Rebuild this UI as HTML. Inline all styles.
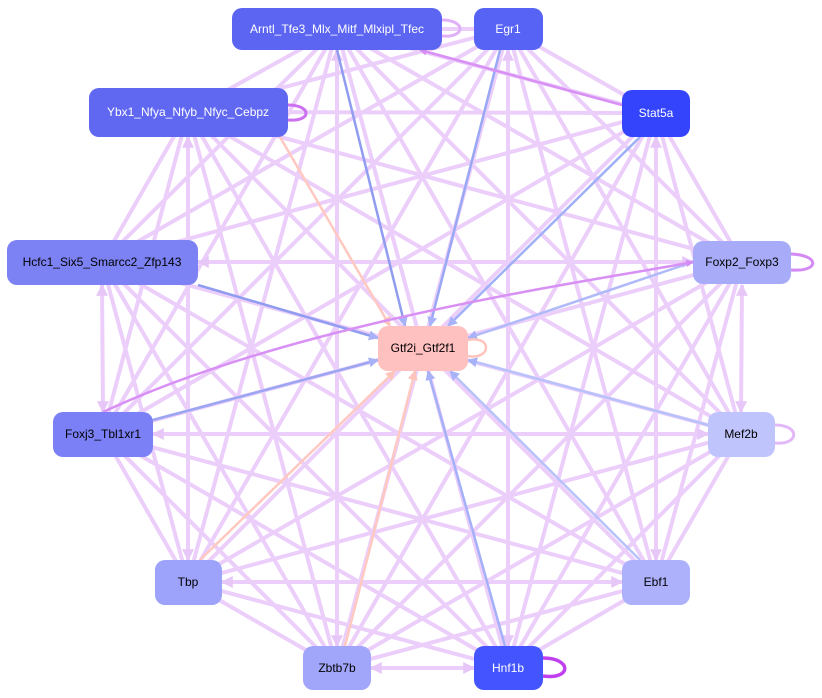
<!DOCTYPE html>
<html><head><meta charset="utf-8"><style>
html,body{margin:0;padding:0;background:#fff;}
svg{display:block}
text{font-family:"Liberation Sans",Arial,sans-serif;font-size:12px;text-anchor:middle;dominant-baseline:central}
</style></head><body>
<svg width="822" height="698" viewBox="0 0 822 698" xmlns="http://www.w3.org/2000/svg">
<defs>
<marker id="al" viewBox="0 0 10 10" refX="9" refY="5" markerWidth="3" markerHeight="3" orient="auto-start-reverse"><path d="M0,0L10,5L0,10z" fill="#e6c4f8"/></marker>
<marker id="ab" viewBox="0 0 10 10" refX="9" refY="5" markerWidth="4" markerHeight="4" orient="auto"><path d="M0,0L10,5L0,10z" fill="#a8b2f8"/></marker>
<marker id="ap" viewBox="0 0 10 10" refX="9" refY="5" markerWidth="4" markerHeight="4" orient="auto"><path d="M0,0L10,5L0,10z" fill="#ffc4bc"/></marker>
<marker id="am" viewBox="0 0 10 10" refX="9" refY="5" markerWidth="3" markerHeight="3" orient="auto"><path d="M0,0L10,5L0,10z" fill="#d68af4"/></marker>
</defs>
<g stroke="#ebccfa" stroke-width="4" fill="none" marker-end="url(#al)" marker-start="url(#al)" opacity="0.95">
<line x1="337" y1="29" x2="508" y2="29"/><line x1="337" y1="29" x2="188" y2="112"/><line x1="337" y1="29" x2="656" y2="113"/><line x1="337" y1="29" x2="102" y2="262"/><line x1="337" y1="29" x2="742" y2="262"/><line x1="337" y1="29" x2="103" y2="434"/><line x1="337" y1="29" x2="741" y2="434"/><line x1="337" y1="29" x2="188" y2="582"/><line x1="337" y1="29" x2="656" y2="582"/><line x1="337" y1="50" x2="337" y2="646"/><line x1="337" y1="29" x2="508" y2="668"/>
<line x1="508" y1="29" x2="188" y2="112"/><line x1="508" y1="29" x2="656" y2="113"/><line x1="508" y1="29" x2="102" y2="262"/><line x1="508" y1="29" x2="742" y2="262"/><line x1="508" y1="29" x2="103" y2="434"/><line x1="508" y1="29" x2="741" y2="434"/><line x1="508" y1="29" x2="188" y2="582"/><line x1="508" y1="29" x2="656" y2="582"/><line x1="508" y1="29" x2="337" y2="668"/><line x1="508" y1="50" x2="508" y2="646"/>
<line x1="188" y1="112" x2="656" y2="113"/><line x1="188" y1="112" x2="102" y2="262"/><line x1="188" y1="112" x2="742" y2="262"/><line x1="188" y1="112" x2="103" y2="434"/><line x1="188" y1="112" x2="741" y2="434"/><line x1="188" y1="137" x2="188" y2="560"/><line x1="188" y1="112" x2="656" y2="582"/><line x1="188" y1="112" x2="337" y2="668"/><line x1="188" y1="112" x2="508" y2="668"/>
<line x1="656" y1="113" x2="102" y2="262"/><line x1="656" y1="113" x2="742" y2="262"/><line x1="656" y1="113" x2="103" y2="434"/><line x1="656" y1="113" x2="741" y2="434"/><line x1="656" y1="113" x2="188" y2="582"/><line x1="656" y1="137" x2="656" y2="560"/><line x1="656" y1="113" x2="337" y2="668"/><line x1="656" y1="113" x2="508" y2="668"/>
<line x1="198" y1="262" x2="693" y2="262"/><line x1="102" y1="285" x2="103" y2="412"/><line x1="102" y1="262" x2="741" y2="434"/><line x1="102" y1="262" x2="188" y2="582"/><line x1="102" y1="262" x2="656" y2="582"/><line x1="102" y1="262" x2="337" y2="668"/><line x1="102" y1="262" x2="508" y2="668"/>
<line x1="742" y1="262" x2="103" y2="434"/><line x1="742" y1="285" x2="741" y2="412"/><line x1="742" y1="262" x2="188" y2="582"/><line x1="742" y1="262" x2="656" y2="582"/><line x1="742" y1="262" x2="337" y2="668"/><line x1="742" y1="262" x2="508" y2="668"/>
<line x1="153" y1="434" x2="708" y2="434"/><line x1="103" y1="434" x2="188" y2="582"/><line x1="103" y1="434" x2="656" y2="582"/><line x1="103" y1="434" x2="337" y2="668"/><line x1="103" y1="434" x2="508" y2="668"/>
<line x1="741" y1="434" x2="188" y2="582"/><line x1="741" y1="434" x2="656" y2="582"/><line x1="741" y1="434" x2="337" y2="668"/><line x1="741" y1="434" x2="508" y2="668"/>
<line x1="622" y1="582" x2="222" y2="582"/><line x1="188" y1="582" x2="337" y2="668"/><line x1="188" y1="582" x2="508" y2="668"/><line x1="656" y1="582" x2="337" y2="668"/><line x1="656" y1="582" x2="508" y2="668"/><line x1="371" y1="668" x2="474" y2="668"/>
</g>
<g fill="none" stroke-width="2.5">
<line x1="337" y1="50" x2="405" y2="326" stroke="#8f9cf0" marker-end="url(#ab)"/>
<line x1="500" y1="50" x2="430" y2="326" stroke="#99a8f4" marker-end="url(#ab)"/>
<line x1="640" y1="137" x2="448" y2="326" stroke="#9fb0f6" marker-end="url(#ab)"/>
<line x1="693" y1="262" x2="468" y2="338" stroke="#b0baf8" marker-end="url(#ab)"/>
<line x1="708" y1="425" x2="468" y2="360" stroke="#b8c2fa" marker-end="url(#ab)"/>
<line x1="640" y1="560" x2="450" y2="371" stroke="#b8c2fa" marker-end="url(#ab)"/>
<line x1="505" y1="646" x2="428" y2="371" stroke="#a4b0f8" marker-end="url(#ab)"/>
<line x1="345" y1="646" x2="415" y2="371" stroke="#ffc8c0" marker-end="url(#ap)"/>
<line x1="200" y1="560" x2="395" y2="371" stroke="#ffc8c0" marker-end="url(#ap)"/>
<line x1="153" y1="420" x2="378" y2="360" stroke="#9aa6f2" marker-end="url(#ab)"/>
<line x1="198" y1="285" x2="378" y2="338" stroke="#8f9cf0" marker-end="url(#ab)"/>
<line x1="280" y1="137" x2="390" y2="326" stroke="#ffc8c0" marker-end="url(#ap)"/>
<path d="M468,340 C492,335 492,360 468,356" stroke="#ffc4bc"/>
<line x1="622" y1="105" x2="420" y2="50" stroke="#d890f4" marker-end="url(#am)"/>
<path d="M103,412 C300,320 600,280 693,262" stroke="#d890f4" marker-end="url(#am)"/>
<path d="M791,254 C820,255 820,272 791,270" stroke="#d48af4" stroke-width="3"/>
<path d="M775,425 C800,425 800,445 775,443" stroke="#e2b8f8" stroke-width="3"/>
<path d="M543,658 C572,658 572,680 543,676" stroke="#c040f0" stroke-width="3.5"/>
<path d="M288,105 C312,105 312,122 288,120" stroke="#cc70f0" stroke-width="3"/>
<path d="M442,20 C466,20 466,38 442,36" stroke="#e0b0f8" stroke-width="3"/>
</g>
<g>
<rect x="232" y="8" width="210" height="42" rx="10" fill="#5b65f2"/><text x="337" y="29" fill="#fff">Arntl_Tfe3_Mlx_Mitf_Mlxipl_Tfec</text>
<rect x="474" y="8" width="69" height="42" rx="10" fill="#5763f4"/><text x="508" y="29" fill="#fff">Egr1</text>
<rect x="89" y="88" width="199" height="49" rx="10" fill="#6068f2"/><text x="188" y="112" fill="#fff">Ybx1_Nfya_Nfyb_Nfyc_Cebpz</text>
<rect x="622" y="90" width="68" height="47" rx="10" fill="#3344fc"/><text x="656" y="113" fill="#fff">Stat5a</text>
<rect x="7" y="240" width="191" height="45" rx="10" fill="#7c82f4"/><text x="102" y="262" fill="#000">Hcfc1_Six5_Smarcc2_Zfp143</text>
<rect x="693" y="241" width="98" height="43" rx="10" fill="#a8acf8"/><text x="742" y="262" fill="#000">Foxp2_Foxp3</text>
<rect x="378" y="326" width="90" height="45" rx="10" fill="#ffc0c0"/><text x="423" y="348" fill="#000">Gtf2i_Gtf2f1</text>
<rect x="53" y="412" width="100" height="45" rx="10" fill="#7b80f6"/><text x="103" y="434" fill="#000">Foxj3_Tbl1xr1</text>
<rect x="708" y="412" width="67" height="45" rx="10" fill="#c0c4fc"/><text x="741" y="434" fill="#000">Mef2b</text>
<rect x="155" y="560" width="67" height="45" rx="10" fill="#9da2fa"/><text x="188" y="582" fill="#000">Tbp</text>
<rect x="622" y="560" width="68" height="45" rx="10" fill="#adb1fb"/><text x="656" y="582" fill="#000">Ebf1</text>
<rect x="303" y="646" width="68" height="44" rx="10" fill="#a1a6fa"/><text x="337" y="668" fill="#000">Zbtb7b</text>
<rect x="474" y="646" width="69" height="44" rx="10" fill="#4455ff"/><text x="508" y="668" fill="#fff">Hnf1b</text>
</g>
</svg>
</body></html>
